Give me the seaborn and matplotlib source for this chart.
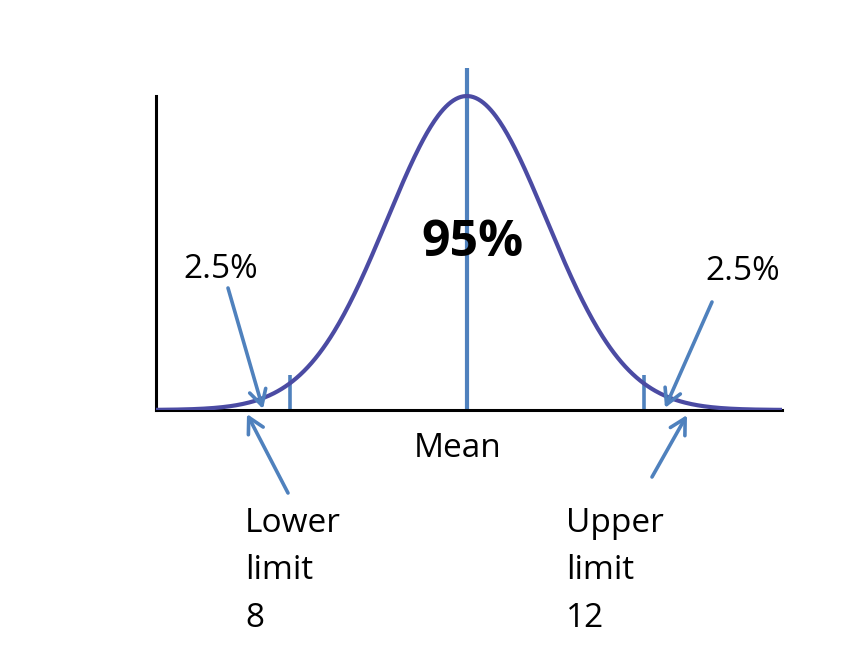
import numpy as np
import pandas as pd
import matplotlib.pyplot as plt
import seaborn as sns

# values
mean = 10
sd = 0.9
limits = [8, 12]
x_range = (6.49, 13.56)
tail_labels = ["2.5%", "2.5%"]
centre_label = "95%"
mean_label = "Mean"
limit_labels = [["Lower", "limit", "8"], ["Upper", "limit", "12"]]

W, H = 861, 668
curve_col = "#4b4ba3"
blue = "#4f81bd"

sns.set_style("white")
plt.rcParams['font.family'] = ['Open Sans', 'DejaVu Sans']
plt.rcParams['text.color'] = 'black'


def fp(px, py):
    # pixel position (from top-left) -> figure fraction
    return px / W, 1 - py / H


xs = np.linspace(x_range[0], x_range[1], 500)
curve = pd.DataFrame({"x": xs,
                      "density": np.exp(-0.5 * ((xs - mean) / sd) ** 2) / (sd * np.sqrt(2 * np.pi))})
peak = curve["density"].max()

fig = plt.figure(figsize=(W / 100, H / 100), dpi=100)
ax = fig.add_axes([156 / W, 1 - 410 / H, 626 / W, 342 / H])

sns.lineplot(data=curve, x="x", y="density", ax=ax, color=curve_col, lw=3, zorder=3)
ax.set_xlim(x_range)
ax.set_ylim(0, peak / 0.918)

ax.axvline(mean, color=blue, lw=3, zorder=2)
ax.vlines(limits, 0, peak * 0.111, color=blue, lw=2.6, zorder=2)

for s in ["top", "right"]:
    ax.spines[s].set_visible(False)
ax.spines["left"].set_bounds(0, peak)
for s in ["left", "bottom"]:
    ax.spines[s].set_color("black")
    ax.spines[s].set_linewidth(2.2)
ax.set_xticks([])
ax.set_yticks([])
ax.set_xlabel("")
ax.set_ylabel("")

# texts
fig.text(*fp(472, 256), centre_label, ha="center", va="baseline",
         fontsize=36, fontweight="bold", color="black", zorder=5)
fig.text(*fp(183, 278), tail_labels[0], ha="left", va="baseline", fontsize=24, color="black")
fig.text(*fp(705, 280), tail_labels[1], ha="left", va="baseline", fontsize=24, color="black")
fig.text(*fp(414, 457), mean_label, ha="left", va="baseline", fontsize=24, color="black")
for x0, lines in zip([245, 566], limit_labels):
    for yb, line in zip([532, 579, 627], lines):
        fig.text(*fp(x0, yb), line, ha="left", va="baseline", fontsize=24, color="black")

# arrows (tail -> tip)
arrows = [((228, 288), (263, 409)),
          ((288, 493), (247, 414)),
          ((712, 302), (665, 408)),
          ((652, 477), (687, 415))]
for tail, tip in arrows:
    ax.annotate("", xy=fp(*tip), xytext=fp(*tail),
                xycoords="figure fraction", textcoords="figure fraction",
                arrowprops=dict(arrowstyle="->,head_length=0.55,head_width=0.3",
                                color=blue, lw=2.6, mutation_scale=20,
                                shrinkA=0, shrinkB=0),
                annotation_clip=False, zorder=6)

plt.savefig("out.png", dpi=100)
